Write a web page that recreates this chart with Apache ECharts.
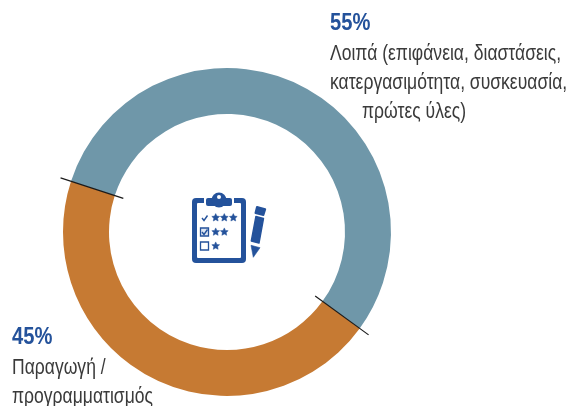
<!DOCTYPE html>
<html><head><meta charset="utf-8">
<style>html,body{margin:0;padding:0;background:#fff}#c{width:569px;height:406px}</style>
<script src="https://cdn.jsdelivr.net/npm/echarts@6/dist/echarts.min.js"></script>
</head><body><div id="c"></div>
<script>
const categories = ['Λοιπά', 'Παραγωγή'];
const shares = [55, 45];
const labelLines = [
  ['Λοιπά (επιφάνεια, διαστάσεις,', 'κατεργασιμότητα, συσκευασία,', 'πρώτες ύλες)'],
  ['Παραγωγή /', 'προγραμματισμός']
];
const colors = ['#6f97a9', '#c67a33'];
const CX = 227, CY = 232, START = 162;
const FONT = '"Liberation Sans",sans-serif';
const ICON = '#24529b';
const TEXT = '#3a3a3a';

function poly(points, grow) {
  return { type: 'polygon', shape: { points }, style: { fill: ICON, stroke: grow ? ICON : null, lineWidth: grow || 0, lineJoin: 'round' } };
}
function star(x, y) {
  const points = [];
  for (let k = 0; k < 10; k++) {
    const r = k % 2 ? 2 : 4.1, a = -Math.PI / 2 + k * Math.PI / 5;
    points.push([x + r * Math.cos(a), y + r * Math.sin(a)]);
  }
  return poly(points, 0.5);
}
function textEl(x, baseline, text, size, weight, color, sx) {
  return {
    type: 'text', x: x, y: baseline, scaleX: sx, silent: true, z: 10,
    style: { text, x: 0, y: 0, fill: color, font: weight + ' ' + size + 'px ' + FONT, textAlign: 'left', textVerticalAlign: 'bottom', verticalAlign: 'bottom' }
  };
}
const icon = [
  { type: 'rect', shape: { x: 192, y: 198, width: 54, height: 65, r: 4 }, style: { fill: ICON } },
  { type: 'rect', shape: { x: 197, y: 203, width: 44, height: 55, r: 1 }, style: { fill: '#fff' } },
  { type: 'rect', shape: { x: 204, y: 198, width: 30, height: 9 }, style: { fill: '#fff' } },
  { type: 'rect', shape: { x: 206, y: 198, width: 26, height: 8, r: 2 }, style: { fill: ICON } },
  { type: 'circle', shape: { cx: 219, cy: 200, r: 7.5 }, style: { fill: ICON } },
  { type: 'circle', shape: { cx: 219, cy: 197, r: 2 }, style: { fill: '#fff' } },
  { type: 'polyline', shape: { points: [[202, 218], [204, 220.5], [207.5, 215.5]] }, style: { stroke: ICON, fill: null, lineWidth: 1.4 } },
  star(215.7, 217.7), star(224.3, 217.7), star(233.3, 217.7),
  { type: 'rect', shape: { x: 200.5, y: 228, width: 8, height: 8 }, style: { stroke: ICON, fill: '#dfe6f1', lineWidth: 1.3 } },
  { type: 'polyline', shape: { points: [[202, 232], [204, 234.5], [207.5, 229.5]] }, style: { stroke: ICON, fill: null, lineWidth: 1.4 } },
  star(215.7, 232), star(224.3, 232),
  { type: 'rect', shape: { x: 200.5, y: 242, width: 8, height: 8 }, style: { stroke: ICON, fill: '#fff', lineWidth: 1.3 } },
  star(215.7, 246),
  poly([[257, 207], [265.2, 209.2], [263.4, 215], [255.5, 213]], 2),
  poly([[255.9, 216.5], [263.5, 218.5], [259, 243], [251.3, 241]], 1.4),
  poly([[251, 245.3], [260, 247.7], [253.3, 257.3]], 0.6)
];
const BODY = 22, PCT = 24, SXB = 0.797, SXP = 0.84;
const texts = [
  textEl(330, 35, shares[0] + '%', PCT, 'bold', ICON, SXP),
  textEl(330, 65, labelLines[0][0], BODY, 'normal', TEXT, SXB),
  textEl(330, 94, labelLines[0][1], BODY, 'normal', TEXT, SXB),
  textEl(362, 123, labelLines[0][2], BODY, 'normal', TEXT, SXB),
  textEl(12, 349, shares[1] + '%', PCT, 'bold', ICON, SXP),
  textEl(12, 379, labelLines[1][0], BODY, 'normal', TEXT, SXB),
  textEl(12, 408, labelLines[1][1], BODY, 'normal', TEXT, SXB)
];

const chart = echarts.init(document.getElementById('c'), null, { renderer: 'canvas' });
chart.setOption({
  animation: false,
  backgroundColor: '#fff',
  graphic: icon.concat(texts),
  series: [
    {
      type: 'pie',
      center: [CX, CY],
      radius: [118, 164],
      startAngle: START,
      clockwise: true,
      silent: true,
      label: { show: false },
      labelLine: { show: false },
      data: categories.map((name, i) => ({ name, value: shares[i], itemStyle: { color: colors[i] } }))
    },
    {
      type: 'custom',
      coordinateSystem: 'none',
      silent: true,
      z: 5,
      data: shares.map((s, i) => [shares.slice(0, i).reduce((a, b) => a + b, 0)]),
      renderItem: function (params, api) {
        const total = shares.reduce((a, b) => a + b, 0);
        const a = (START - api.value(0) / total * 360) * Math.PI / 180;
        const c = Math.cos(a), n = -Math.sin(a);
        return {
          type: 'line',
          shape: { x1: CX + 109 * c, y1: CY + 109 * n, x2: CX + 175 * c, y2: CY + 175 * n },
          style: { stroke: '#1a1a1a', lineWidth: 1.2 }
        };
      }
    }
  ]
});
</script></body></html>
